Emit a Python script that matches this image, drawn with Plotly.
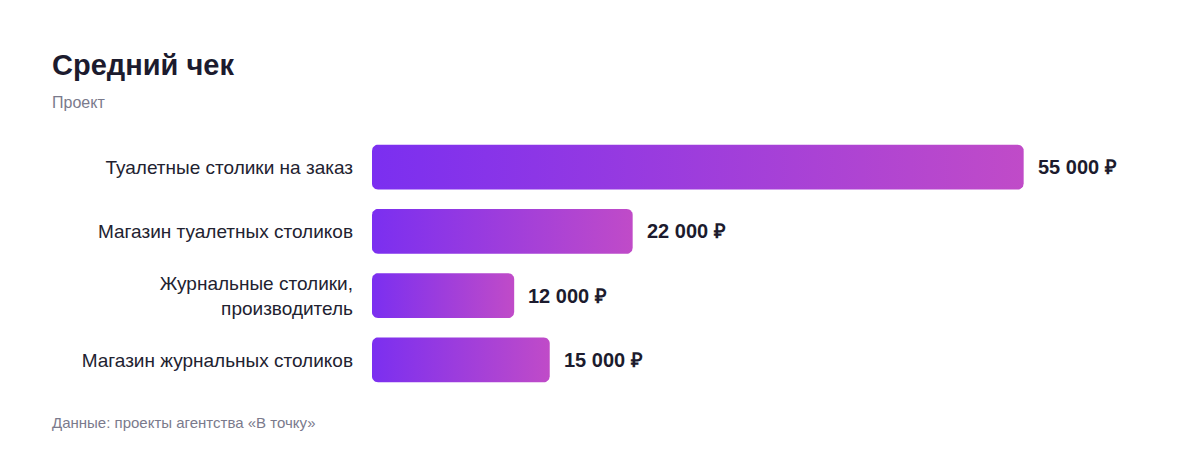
import numpy as np
import plotly.graph_objects as go

# ---- data ----
categories = [
    "Туалетные столики на заказ",
    "Магазин туалетных столиков",
    "Журнальные столики,<br>производитель",
    "Магазин журнальных столиков",
]
values = [55000, 22000, 12000, 15000]
value_labels = ["55 000 ₽", "22 000 ₽", "12 000 ₽", "15 000 ₽"]

title_text = "Средний чек"
subtitle_text = "Проект"
footer_text = "Данные: проекты агентства «В точку»"

FONT = "Liberation Sans, Arial, Helvetica, sans-serif"

# ---- layout geometry (page body has an 8px margin) ----
OFF = 8
W, H = 1200, 456
ML, MT = 372 - OFF, 135 - OFF
MR = 46 + OFF
MB = 64 + OFF
XMAX = 66000
plot_w = W - ML - MR
plot_h = H - MT - MB
n = len(categories)
px_per_x = plot_w / XMAX
px_per_y = plot_h / n
half = 0.35
radius_px = 6

c0, c1 = "#7B2FF0", "#C04BC8"


def rounded_rect(x0, x1, y0, y1, rx, ry, k=8):
    xs, ys = [], []
    corners = [
        (x1 - rx, y1 - ry, 0, np.pi / 2),
        (x0 + rx, y1 - ry, np.pi / 2, np.pi),
        (x0 + rx, y0 + ry, np.pi, 1.5 * np.pi),
        (x1 - rx, y0 + ry, 1.5 * np.pi, 2 * np.pi),
    ]
    for cx, cy, a0, a1 in corners:
        t = np.linspace(a0, a1, k)
        xs.extend(cx + rx * np.cos(t))
        ys.extend(cy + ry * np.sin(t))
    xs.append(xs[0])
    ys.append(ys[0])
    return xs, ys


def px_to_paper_x(px):
    return (px - OFF - ML) / plot_w


def px_to_paper_y(py):
    return 1 - (py - OFF - MT) / plot_h


fig = go.Figure()
rx = radius_px / px_per_x
ry = radius_px / px_per_y
for i, v in enumerate(values):
    xs, ys = rounded_rect(0, v, i - half, i + half, rx, ry)
    fig.add_trace(go.Scatter(
        x=xs, y=ys, mode="lines", fill="toself",
        line=dict(width=0, color=c0),
        fillgradient=dict(type="horizontal", start=0, stop=v,
                          colorscale=[[0, c0], [1, c1]]),
        hoverinfo="skip", showlegend=False,
    ))
    fig.add_annotation(
        x=v, y=i, text=f"<b>{value_labels[i]}</b>", showarrow=False,
        xanchor="left", yanchor="middle", xshift=12,
        font=dict(family=FONT, size=20, color="#1C1B2E"),
    )

fig.update_layout(
    width=W, height=H,
    margin=dict(l=ML, r=MR, t=MT, b=MB),
    paper_bgcolor="white", plot_bgcolor="white",
    xaxis=dict(range=[0, XMAX], visible=False, fixedrange=True),
    yaxis=dict(
        range=[n - 0.5, -0.5], tickvals=list(range(n)), ticktext=categories,
        showgrid=False, zeroline=False, showline=False, ticks="",
        ticklabelstandoff=18,
        tickfont=dict(family=FONT, size=19, color="#222230"),
        fixedrange=True,
    ),
    showlegend=False,
)

fig.add_annotation(
    xref="paper", yref="paper", x=px_to_paper_x(52), y=px_to_paper_y(65),
    text=f"<b>{title_text}</b>", showarrow=False, xanchor="left", yanchor="middle",
    xshift=-2,
    font=dict(family=FONT, size=29, color="#1C1B2E"),
)
fig.add_annotation(
    xref="paper", yref="paper", x=px_to_paper_x(52), y=px_to_paper_y(102),
    text=subtitle_text, showarrow=False, xanchor="left", yanchor="middle",
    xshift=-2,
    font=dict(family=FONT, size=16, color="#7A7A8C"),
)
fig.add_annotation(
    xref="paper", yref="paper", x=px_to_paper_x(52), y=px_to_paper_y(422),
    text=footer_text, showarrow=False, xanchor="left", yanchor="middle",
    xshift=-2,
    font=dict(family=FONT, size=15, color="#7A7A8C"),
)

fig.write_html("out.html", config={"displayModeBar": False})
